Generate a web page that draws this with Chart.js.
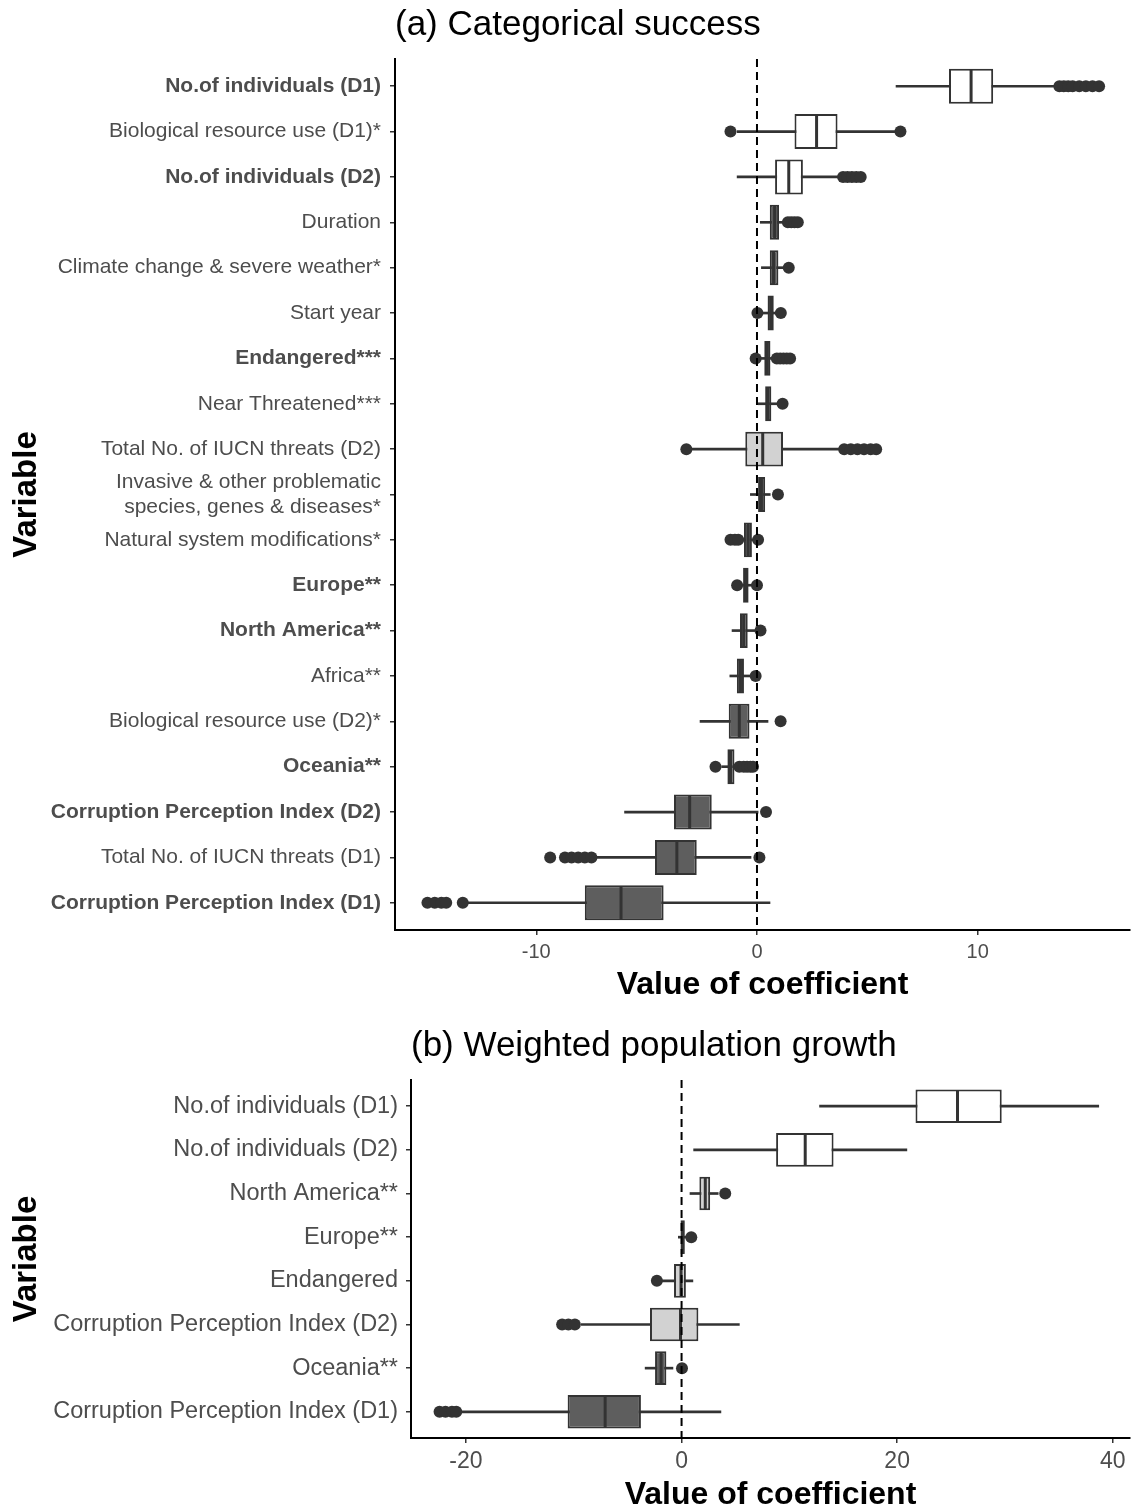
<!DOCTYPE html>
<html>
<head>
<meta charset="utf-8">
<script src="https://cdn.jsdelivr.net/npm/chart.js@4.4.0/dist/chart.umd.min.js"></script>
<style>
  html, body { margin: 0; background: #fff; overflow: hidden; }
  canvas { display: block; }
</style>
</head>
<body>
<canvas id="chartA" width="1138" height="1012"></canvas>
<canvas id="chartB" width="1138" height="505"></canvas>
<script>
// ---- (a) Categorical success ----
const labelsA = ["No.of individuals (D1)", "Biological resource use (D1)*", "No.of individuals (D2)", "Duration",
  "Climate change & severe weather*", "Start year", "Endangered***", "Near Threatened***",
  "Total No. of IUCN threats (D2)", "Invasive & other problematic\nspecies, genes & diseases*",
  "Natural system modifications*", "Europe**", "North America**", "Africa**", "Biological resource use (D2)*",
  "Oceania**", "Corruption Perception Index (D2)", "Total No. of IUCN threats (D1)", "Corruption Perception Index (D1)"];
const boldA = [1, 0, 1, 0, 0, 0, 1, 0, 0, 0, 0, 1, 1, 0, 0, 1, 1, 0, 1];
const loA  = [6.3, -0.9, -0.9, 0.15, 0.2, 0.1, 0.05, 0.05, -3.0, -0.3, -0.75, -0.8, -1.13, -1.23, -2.58, -1.6, -6.0, -7.3, -13.2];
const q1A  = [8.7, 1.7, 0.82, 0.58, 0.58, 0.48, 0.33, 0.37, -0.53, 0.05, -0.59, -0.63, -0.77, -0.91, -1.28, -1.34, -3.76, -4.62, -7.8];
const medA = [9.7, 2.7, 1.44, 0.8, 0.75, 0.62, 0.47, 0.5, 0.26, 0.2, -0.4, -0.5, -0.6, -0.75, -0.8, -1.2, -3.05, -3.63, -6.16];
const q3A  = [10.7, 3.65, 2.08, 1.0, 0.97, 0.76, 0.61, 0.65, 1.18, 0.37, -0.23, -0.38, -0.42, -0.59, -0.34, -1.02, -2.05, -2.73, -4.23];
const hiA  = [13.5, 6.3, 3.8, 1.3, 1.25, 1.0, 0.8, 0.95, 3.8, 0.6, 0.0, -0.1, -0.1, -0.3, 0.5, -0.9, 0.05, -0.27, 0.59];
const outA = [
  [13.7, 13.9, 14.1, 14.3, 14.6, 14.9, 15.2, 15.5],
  [-1.2, 6.5],
  [3.9, 4.1, 4.3, 4.5, 4.7],
  [1.4, 1.55, 1.7, 1.85],
  [1.44],
  [0.02, 1.08],
  [-0.06, 0.9, 1.05, 1.2, 1.35, 1.5],
  [1.16],
  [-3.2, 3.95, 4.25, 4.55, 4.85, 5.15, 5.4],
  [0.95],
  [-1.2, -1.0, -0.85, 0.05],
  [-0.9, 0.0],
  [0.16],
  [-0.06],
  [1.07],
  [-1.88, -0.8, -0.6, -0.45, -0.3, -0.18],
  [0.41],
  [-9.37, -8.7, -8.4, -8.1, -7.8, -7.5, 0.11],
  [-14.93, -14.6, -14.3, -14.08, -13.33]
];
const shadeA = ["white", "white", "white", "dark", "dark", "dark", "dark", "dark", "light", "dark",
  "dark", "dark", "dark", "dark", "dark", "dark", "dark", "dark", "dark"];
const ticksA = [-10, 0, 10];

// ---- (b) Weighted population growth ----
const labelsB = ["No.of individuals (D1)", "No.of individuals (D2)", "North America**", "Europe**", "Endangered",
  "Corruption Perception Index (D2)", "Oceania**", "Corruption Perception Index (D1)"];
const boldB = [0, 0, 0, 0, 0, 0, 0, 0];
const loB  = [12.8, 1.12, 0.78, -0.3, -1.9, -9.3, -3.38, -20.7];
const q1B  = [21.7, 8.77, 1.65, -0.1, -0.7, -2.93, -2.46, -10.57];
const medB = [25.6, 11.47, 2.2, 0.1, -0.05, -0.1, -1.9, -7.09];
const q3B  = [29.7, 14.1, 2.65, 0.3, 0.4, 1.56, -1.41, -3.77];
const hiB  = [38.7, 20.9, 3.4, 0.6, 1.05, 5.36, -0.8, 3.65];
const outB = [[], [], [4.05], [0.9], [-2.29], [-11.08, -10.5, -9.9], [0.04], [-22.45, -21.9, -21.3, -20.9]];
const shadeB = ["white", "white", "light", "dark", "light", "light", "dark", "dark"];
const ticksB = [-20, 0, 20, 40];

const fills = { white: "#ffffff", dark: "#5e5e5e", light: "#d2d2d2" };
const FONT = "'Liberation Sans', Arial, sans-serif";
Chart.defaults.font.family = FONT;

function boxChart(id, d) {
  const medianAndZero = {
    id: 'medianAndZero',
    afterDatasetsDraw(chart) {
      const { ctx, chartArea, scales: { x } } = chart;
      const boxes = chart.getDatasetMeta(1).data;
      ctx.save();
      ctx.strokeStyle = '#333';
      ctx.lineWidth = 3;
      d.med.forEach((m, i) => {
        const b = boxes[i];
        const px = x.getPixelForValue(m);
        ctx.beginPath();
        ctx.moveTo(px, b.y - b.height / 2 + 1);
        ctx.lineTo(px, b.y + b.height / 2 - 1);
        ctx.stroke();
      });
      const x0 = x.getPixelForValue(0);
      ctx.setLineDash([8, 5]);
      ctx.lineWidth = 2;
      ctx.strokeStyle = '#000';
      ctx.beginPath();
      ctx.moveTo(x0, chartArea.top);
      ctx.lineTo(x0, chartArea.bottom);
      ctx.stroke();
      ctx.restore();
    }
  };

  const n = d.labels.length;
  const outliers = [];
  d.out.forEach((arr, i) => arr.forEach(v => outliers.push({ x: v, y: i })));

  return new Chart(document.getElementById(id), {
    type: 'bar',
    data: {
      datasets: [
        {
          label: 'whisker',
          data: d.lo.map((v, i) => ({ y: i, x: [v, d.hi[i]] })),
          backgroundColor: '#333',
          barThickness: 2,
          grouped: false,
          order: 3
        },
        {
          label: 'box',
          data: d.q1.map((v, i) => ({ y: i, x: [v, d.q3[i]] })),
          backgroundColor: d.shade.map(s => fills[s]),
          borderColor: '#333',
          borderWidth: 2,
          borderSkipped: false,
          barPercentage: 0.77,
          categoryPercentage: 1,
          grouped: false,
          order: 2
        },
        {
          type: 'scatter',
          label: 'outlier',
          data: outliers,
          pointRadius: 6,
          pointBackgroundColor: '#333',
          pointBorderWidth: 0,
          order: 1
        }
      ]
    },
    options: {
      indexAxis: 'y',
      responsive: false,
      animation: false,
      layout: { padding: { left: 0, right: 8, top: 0, bottom: 0 } },
      plugins: {
        legend: { display: false },
        tooltip: { enabled: false },
        title: {
          display: true,
          text: d.title,
          fullSize: false,
          align: 'start',
          color: '#000',
          font: { size: 35, weight: 'normal', family: FONT },
          padding: d.titlePad
        }
      },
      scales: {
        x: {
          type: 'linear',
          min: d.min,
          max: d.max,
          afterBuildTicks: s => { s.ticks = d.ticks.map(v => ({ value: v })); },
          afterFit: s => { s.height = d.xHeight; },
          grid: { drawOnChartArea: false, drawTicks: true, tickLength: 5, color: '#333', lineWidth: 1.5 },
          border: { display: true, color: '#000', width: 2 },
          ticks: { color: '#4d4d4d', padding: 5, font: { size: d.xTickSize } },
          title: {
            display: true,
            text: 'Value of coefficient',
            color: '#000',
            font: { size: 32, weight: 'bold' },
            padding: { top: 0, bottom: d.xTitleBottom }
          }
        },
        y: {
          type: 'linear',
          reverse: true,
          offset: false,
          min: -0.6,
          max: n - 0.4,
          afterBuildTicks: s => { s.ticks = d.labels.map((_, i) => ({ value: i })); },
          afterFit: s => { s.width = d.yWidth; },
          grid: { offset: false, drawOnChartArea: false, drawTicks: true, tickLength: 5, color: '#333', lineWidth: 1.5 },
          border: { display: true, color: '#000', width: 2 },
          ticks: {
            color: '#4d4d4d',
            padding: d.yTickPad,
            autoSkip: false,
            callback: v => d.labels[v].split('\n'),
            font: c => ({ size: d.yTickSize, weight: d.bold[c.index] ? 'bold' : 'normal', family: FONT })
          },
          title: {
            display: true,
            text: 'Variable',
            color: '#000',
            font: { size: 33, weight: 'bold' },
            padding: { top: 7, bottom: 0 }
          }
        }
      }
    },
    plugins: [medianAndZero]
  });
}

boxChart('chartA', {
  labels: labelsA, bold: boldA, lo: loA, q1: q1A, med: medA, q3: q3A, hi: hiA, out: outA, shade: shadeA,
  ticks: ticksA, min: -16.4, max: 16.9, title: '(a) Categorical success',
  titlePad: { top: 4, bottom: 13 }, yWidth: 395, xHeight: 82, xTitleBottom: 8,
  yTickSize: 21, yTickPad: 9, xTickSize: 20
});

boxChart('chartB', {
  labels: labelsB, bold: boldB, lo: loB, q1: q1B, med: medB, q3: q3B, hi: hiB, out: outB, shade: shadeB,
  ticks: ticksB, min: -25.1, max: 41.6, title: '(b) Weighted population growth',
  titlePad: { top: 13, bottom: 13 }, yWidth: 411, xHeight: 79, xTitleBottom: 3,
  yTickSize: 23.5, yTickPad: 8, xTickSize: 23
});
</script>
</body>
</html>
